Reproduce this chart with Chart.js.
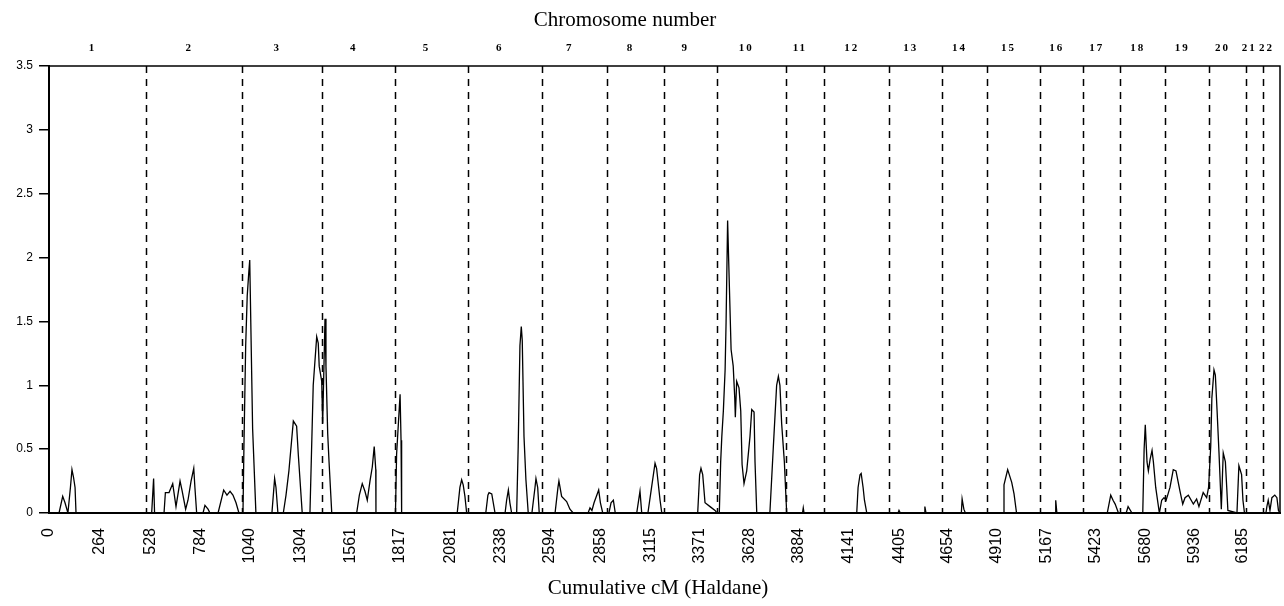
<!DOCTYPE html>
<html>
<head>
<meta charset="utf-8">
<title>Chromosome scan</title>
<script src="https://cdn.jsdelivr.net/npm/chart.js@4.4.0/dist/chart.umd.min.js"></script>
<style>
  html, body { margin: 0; padding: 0; background: #fff; }
  #wrap { width: 1284px; height: 606px; }
</style>
</head>
<body>
<div id="wrap"><canvas id="scanChart" width="1284" height="606"></canvas></div>
<script>
// Data waarden
const xTickValues = [0, 264, 528, 784, 1040, 1304, 1561, 1817, 2081, 2338, 2594, 2858, 3115,
    3371, 3628, 3884, 4141, 4405, 4654, 4910, 5167, 5423, 5680, 5936, 6185];
const xMax = 6378;

const chromNames = ['1', '2', '3', '4', '5', '6', '7', '8', '9', '10', '11', '12', '13', '14',
    '15', '16', '17', '18', '19', '20', '21', '22'];
// einde van elk chromosoom, cumulatieve cM
const chromEnds = [503, 1002, 1416, 1794, 2169, 2554, 2893, 3185, 3460, 3817, 4016, 4354, 4628,
    4859, 5136, 5359, 5551, 5782, 6012, 6201, 6289, 6378];

const posCM = [
    0, 52, 71, 83, 98, 111, 119, 127, 135, 140,
    532, 542, 547, 596, 603, 622, 641, 658, 679, 689, 708, 720, 736, 750, 756, 765,
    798, 808, 824, 834, 876, 905, 922, 938, 953, 969, 984,
    1005, 1010, 1019, 1027, 1035, 1040, 1055, 1072, 1155, 1169, 1176, 1186,
    1214, 1228, 1243, 1266, 1283, 1292, 1312,
    1352, 1369, 1387, 1395, 1400, 1413, 1418, 1430, 1435, 1444, 1451, 1465,
    1594, 1608, 1623, 1637, 1649, 1663, 1675, 1685, 1693, 1694,
    1795, 1801, 1819, 1824, 1827, 2115, 2129, 2138, 2146, 2155, 2164,
    2263, 2274, 2280, 2294, 2311, 2363, 2371, 2380, 2388, 2397,
    2423, 2431, 2440, 2447, 2452, 2461, 2471, 2483, 2502, 2518, 2523, 2532, 2540,
    2622, 2637, 2642, 2656, 2682, 2699, 2716, 2793, 2803, 2813, 2824, 2848, 2857, 2869,
    2901, 2912, 2924, 2934, 3045, 3062, 3071, 3103, 3122, 3140, 3148, 3166, 3175,
    3361, 3371, 3378, 3387, 3399, 3425, 3451, 3461,
    3473, 3480, 3486, 3494, 3503, 3508, 3516, 3522, 3534, 3545, 3553, 3556, 3563, 3575,
    3584, 3591, 3601, 3615, 3632, 3641, 3653, 3658, 3667,
    3735, 3753, 3770, 3779, 3787, 3796, 3810, 3822, 3904, 3908, 3912,
    4185, 4192, 4202, 4208, 4218, 4225, 4237, 4399, 4404, 4411, 4536, 4538, 4544,
    4727, 4731, 4740, 4748, 4944, 4948, 4967, 4988, 5000, 5013, 5215, 5216, 5222,
    5483, 5501, 5513, 5524, 5541, 5581, 5591, 5611,
    5667, 5674, 5680, 5689, 5696, 5705, 5715, 5722, 5734, 5753, 5765, 5777, 5788,
    5798, 5808, 5825, 5839, 5860, 5874, 5886, 5903, 5929, 5946, 5958, 5980, 5998, 6008,
    6019, 6025, 6036, 6043, 6052, 6062, 6074, 6080, 6084, 6095, 6102, 6108,
    6155, 6165, 6179, 6186, 6194,
    6305, 6310, 6317, 6326, 6336, 6351, 6362, 6370, 6378
];

const lod = [
    0, 0, 0.13, 0.08, 0, 0.2, 0.34, 0.28, 0.2, 0,
    0, 0.27, 0, 0, 0.16, 0.16, 0.23, 0.05, 0.25, 0.18, 0.03, 0.1, 0.25, 0.35, 0.2, 0,
    0, 0.06, 0.03, 0, 0, 0.18, 0.14, 0.17, 0.14, 0.08, 0,
    0, 0.52, 1.31, 1.7, 1.88, 1.98, 0.66, 0, 0, 0.27, 0.2, 0,
    0, 0.14, 0.33, 0.72, 0.68, 0.45, 0,
    0, 1.0, 1.38, 1.33, 1.15, 1.03, 0.7, 1.52, 1.15, 0.62, 0.4, 0,
    0, 0.14, 0.23, 0.17, 0.1, 0.25, 0.36, 0.52, 0.34, 0,
    0, 0.46, 0.93, 0.57, 0, 0, 0.2, 0.26, 0.22, 0.13, 0,
    0, 0.14, 0.16, 0.15, 0, 0, 0.1, 0.18, 0.08, 0,
    0, 0.52, 1.31, 1.46, 1.35, 0.6, 0.26, 0, 0, 0.2, 0.27, 0.2, 0,
    0, 0.2, 0.25, 0.13, 0.09, 0.03, 0, 0, 0.04, 0.02, 0.08, 0.18, 0.08, 0,
    0, 0.08, 0.1, 0, 0, 0.17, 0, 0, 0.2, 0.39, 0.35, 0.1, 0,
    0, 0.3, 0.35, 0.3, 0.08, 0.05, 0.02, 0,
    0, 0.4, 0.6, 0.8, 1.12, 1.49, 2.29, 1.95, 1.28, 1.15, 0.9, 0.75, 1.03, 0.98,
    0.8, 0.38, 0.23, 0.33, 0.6, 0.81, 0.79, 0.4, 0,
    0, 0.52, 1.0, 1.07, 1.0, 0.7, 0.4, 0, 0, 0.04, 0,
    0, 0.2, 0.3, 0.31, 0.2, 0.1, 0, 0, 0.02, 0, 0, 0.05, 0,
    0, 0.11, 0.03, 0, 0, 0.22, 0.34, 0.24, 0.15, 0, 0, 0.1, 0,
    0, 0.14, 0.1, 0.07, 0, 0, 0.05, 0,
    0, 0.5, 0.69, 0.4, 0.33, 0.42, 0.49, 0.4, 0.2, 0, 0.1, 0.12, 0.1,
    0.15, 0.2, 0.34, 0.33, 0.17, 0.07, 0.12, 0.14, 0.07, 0.11, 0.05, 0.16, 0.12, 0.2,
    0.52, 0.9, 1.12, 1.08, 0.8, 0.47, 0.03, 0.3, 0.47, 0.4, 0.2, 0.02,
    0, 0.37, 0.3, 0.1, 0,
    0, 0.05, 0.1, 0.02, 0.12, 0.14, 0.12, 0.02, 0
];

// Plugin: stippellijnen per chromosoom, kader en teksten
const chromPlugin = {
    id: 'chromosomes',
    beforeDatasetsDraw(chart) {
        const { ctx, chartArea: a, scales: { x } } = chart;
        ctx.save();
        ctx.strokeStyle = '#000';
        ctx.lineWidth = 1.5;
        ctx.setLineDash([7, 6]);
        chromEnds.slice(0, -1).forEach(end => {
            const px = Math.round(x.getPixelForValue(end)) + 0.5;
            ctx.beginPath();
            ctx.moveTo(px, a.top);
            ctx.lineTo(px, a.bottom);
            ctx.stroke();
        });
        ctx.restore();
    },
    afterDraw(chart) {
        const { ctx, chartArea: a, scales: { x } } = chart;
        ctx.save();

        // kader rond plotgebied
        ctx.strokeStyle = '#000';
        ctx.lineWidth = 1.5;
        ctx.strokeRect(a.left, a.top, a.right - a.left, a.bottom - a.top);

        // chromosoomnummers
        ctx.fillStyle = '#000';
        ctx.textAlign = 'center';
        ctx.textBaseline = 'middle';
        ctx.font = 'bold 11px "Liberation Serif", serif';
        if ('letterSpacing' in ctx) ctx.letterSpacing = '2px';
        let start = 0;
        chromNames.forEach((name, i) => {
            const mid = (x.getPixelForValue(start) + x.getPixelForValue(chromEnds[i])) / 2;
            ctx.fillText(name, mid - 5, 48);
            start = chromEnds[i];
        });
        if ('letterSpacing' in ctx) ctx.letterSpacing = '0px';

        // titels
        ctx.font = '21px "Liberation Serif", serif';
        ctx.fillText('Chromosome number', 625, 20);
        ctx.fillText('Cumulative cM (Haldane)', 658, 588);
        ctx.restore();
    }
};

const scanCtx = document.getElementById('scanChart').getContext('2d');
const scanChart = new Chart(scanCtx, {
    type: 'line',
    data: {
        datasets: [{
            label: 'LOD',
            data: posCM.map((p, i) => ({ x: p, y: lod[i] })),
            borderColor: '#000',
            borderWidth: 1.3,
            pointRadius: 0,
            tension: 0,
            fill: false
        }]
    },
    options: {
        responsive: false,
        animation: false,
        devicePixelRatio: 1,
        layout: { padding: { top: 66, right: 4, bottom: 0, left: 0 } },
        plugins: {
            legend: { display: false },
            tooltip: { enabled: false }
        },
        scales: {
            x: {
                type: 'linear',
                min: 0,
                max: xMax,
                afterBuildTicks(scale) {
                    scale.ticks = xTickValues.map(v => ({ value: v }));
                },
                afterFit(scale) {
                    scale.height = 93;
                },
                grid: { display: false, drawTicks: false },
                border: { display: true, color: '#000', width: 2 },
                ticks: {
                    autoSkip: false,
                    minRotation: 90,
                    maxRotation: 90,
                    padding: 15,
                    color: '#000',
                    font: { family: '"Liberation Sans", Arial, sans-serif', size: 16 },
                    callback: v => String(v)
                }
            },
            y: {
                min: 0,
                max: 3.5,
                afterFit(scale) {
                    scale.width = 49;
                },
                grid: {
                    drawOnChartArea: false,
                    drawTicks: true,
                    tickLength: 10,
                    color: '#000',
                    lineWidth: 1.5
                },
                border: { display: true, color: '#000', width: 2 },
                ticks: {
                    stepSize: 0.5,
                    padding: 6,
                    color: '#000',
                    font: { family: '"Liberation Sans", Arial, sans-serif', size: 12 },
                    callback: v => String(Math.round(v * 10) / 10)
                }
            }
        }
    },
    plugins: [chromPlugin]
});
</script>
</body>
</html>
